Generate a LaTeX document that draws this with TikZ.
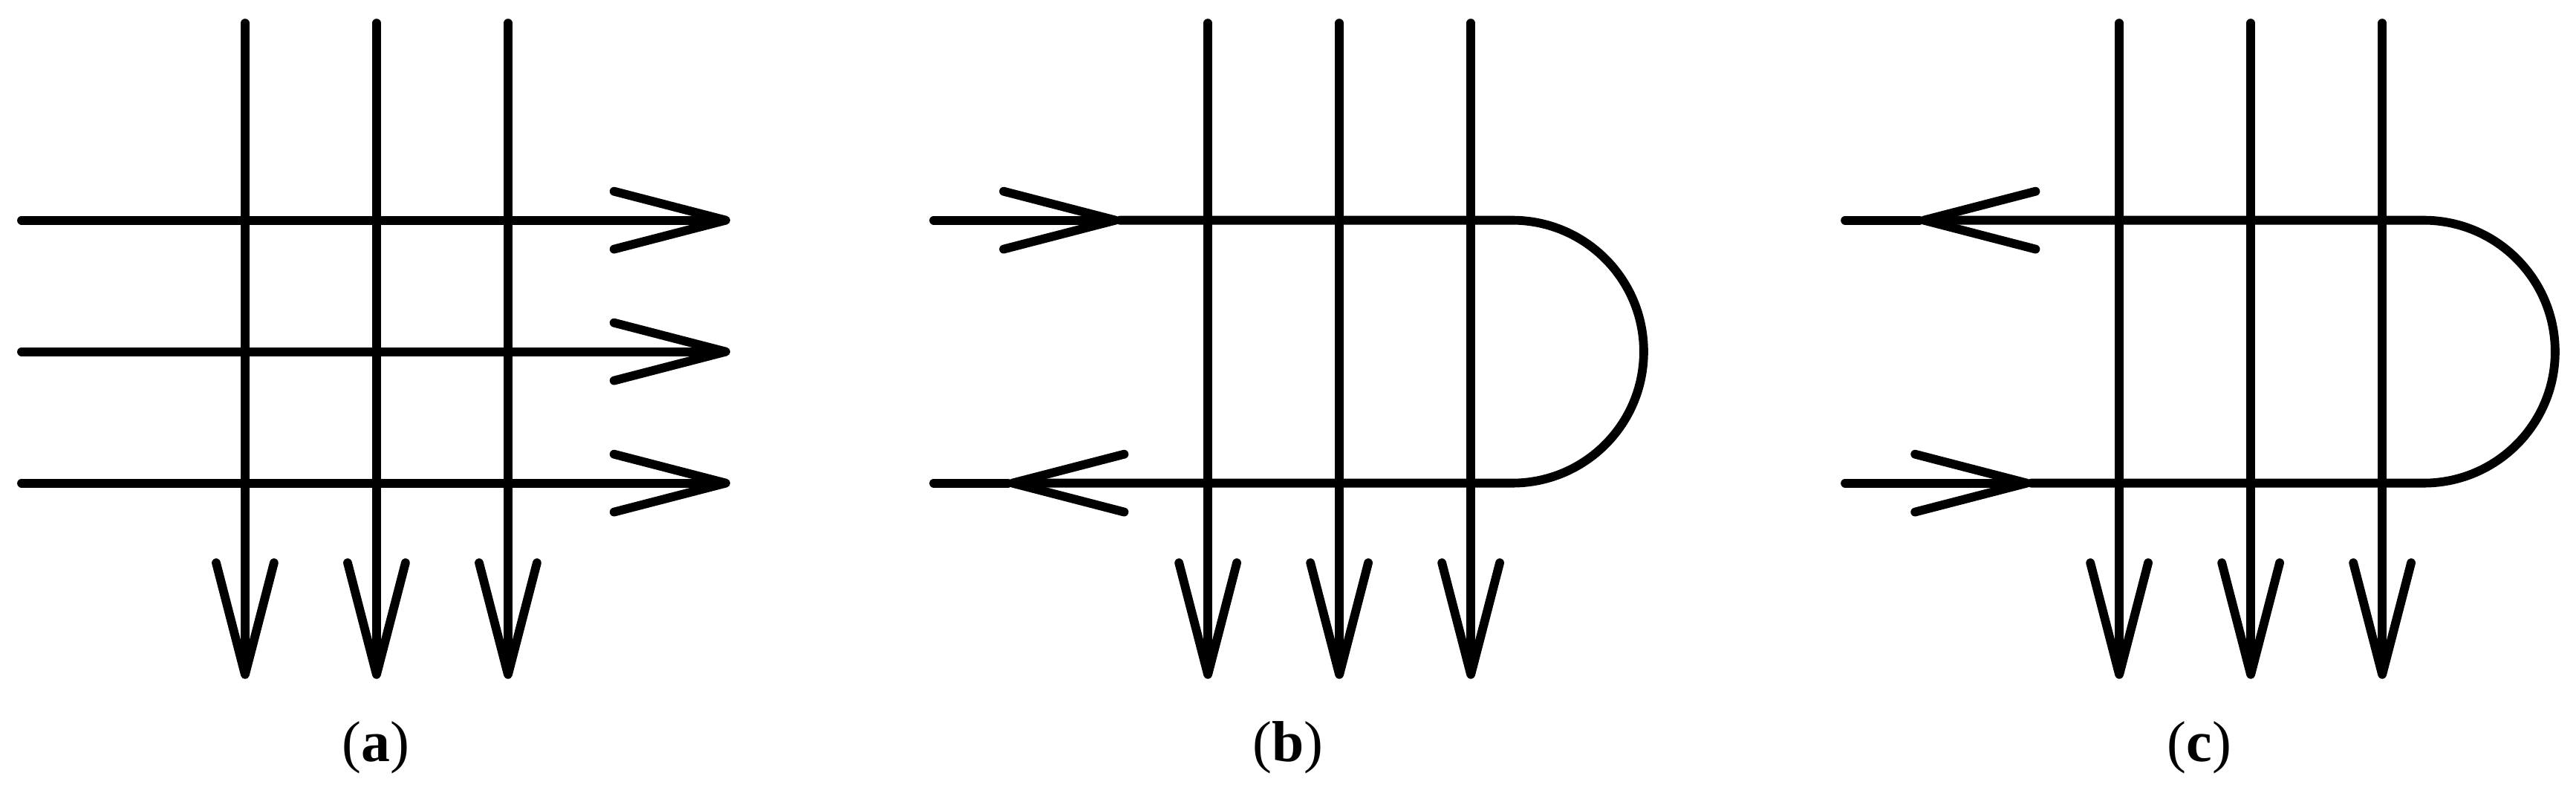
\documentclass[tikz,border=0pt]{standalone}
\usepackage{fontspec}
\setmainfont{Liberation Serif}
\usetikzlibrary{arrows.meta}

\tikzset{
  flow/.style={line width=1.9pt, line cap=round},
  flowarrow/.style={flow, -{Straight Barb[length=0.85cm, width=0.44cm, round]}},
  caption/.style={font=\fontsize{12.5}{15}\selectfont}
}

\begin{document}
\begin{tikzpicture}[x=1cm, y=1cm]
  \useasboundingbox (0,0) rectangle (19.593,6.051);

  % (a) straight crossing
  \begin{scope}[shift={(0.164,2.375)}]
    \draw[flowarrow] (0,2) -- (5.39,2);
    \draw[flowarrow] (0,1) -- (5.39,1);
    \draw[flowarrow] (0,0) -- (5.39,0);

    \draw[flowarrow] (1.7,3.5) -- (1.7,-1.49);
    \draw[flowarrow] (2.7,3.5) -- (2.7,-1.49);
    \draw[flowarrow] (3.7,3.5) -- (3.7,-1.49);

    \node[caption] (capa) at (2.695,-2.013) {(\textbf{a})};
  \end{scope}

  % (b) loop, entering at the top
  \begin{scope}[shift={(7.102,2.375)}]
    \draw[flowarrow] (0,2) -- (1.415,2);
    \draw[flowarrow] (1.415,2) -- (4.40,2) arc[start angle=90, end angle=-90, radius=1] -- (0.565,0);
    \draw[flow] (0.565,0) -- (0,0);

    \draw[flowarrow] (2.085,3.5) -- (2.085,-1.49);
    \draw[flowarrow] (3.085,3.5) -- (3.085,-1.49);
    \draw[flowarrow] (4.085,3.5) -- (4.085,-1.49);

    \node[caption] (capb) at (2.695,-2.013) {(\textbf{b})};
  \end{scope}

  % (c) loop, entering at the bottom
  \begin{scope}[shift={(14.034,2.375)}]
    \draw[flowarrow] (0,0) -- (1.415,0);
    \draw[flowarrow] (1.415,0) -- (4.40,0) arc[start angle=-90, end angle=90, radius=1] -- (0.565,2);
    \draw[flow] (0.565,2) -- (0,2);

    \draw[flowarrow] (2.085,3.5) -- (2.085,-1.49);
    \draw[flowarrow] (3.085,3.5) -- (3.085,-1.49);
    \draw[flowarrow] (4.085,3.5) -- (4.085,-1.49);

    \node[caption] (capc) at (2.695,-2.013) {(\textbf{c})};
  \end{scope}
\end{tikzpicture}
\end{document}
